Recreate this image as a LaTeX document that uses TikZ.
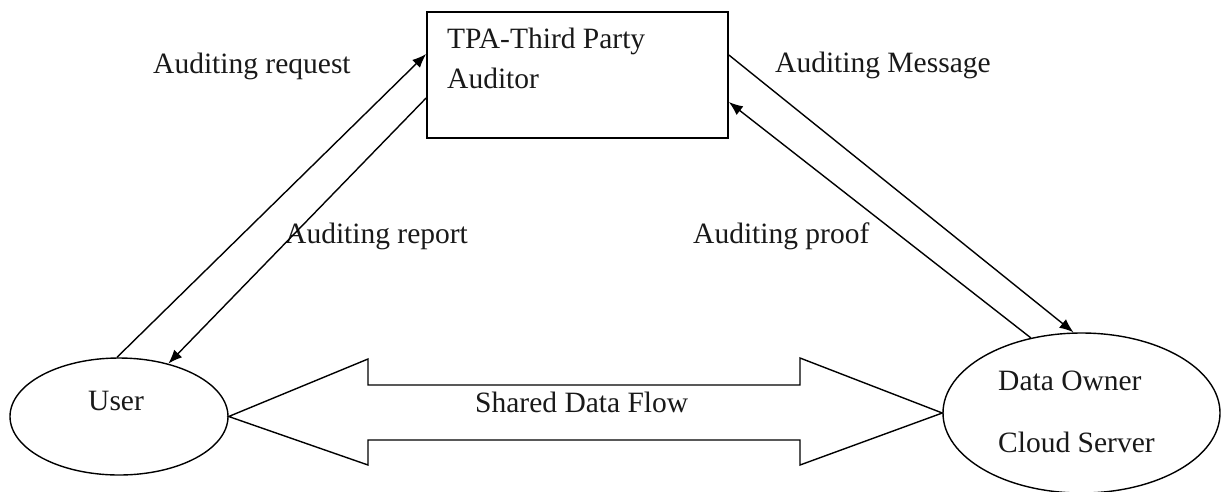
\documentclass[tikz,border=0pt]{standalone}
\usepackage{fontspec}
\setmainfont{Liberation Serif}
\usetikzlibrary{shapes.geometric,arrows.meta,calc}
\begin{document}
\begin{tikzpicture}[x=1pt,y=-1pt,
  lbl/.style={anchor=base west,inner sep=0pt,text=black!90,font=\fontsize{29.5}{35}\selectfont},
  ell/.style={draw,ellipse,line width=1.4pt,inner sep=0pt},
  boxnode/.style={draw,line width=1.7pt,inner sep=0pt},
  flow/.style={line width=1.4pt,-{Latex[length=14pt,width=11pt]}},
  bigarrow/.style={draw,line width=1.4pt,line join=miter}]
\useasboundingbox (0,0) rectangle (1222,491);
\fill[white] (0,0) rectangle (1222,491);
% main nodes
\node[boxnode,minimum width=301pt,minimum height=126pt] (tpa) at (577.5,75) {};
\node[ell,minimum width=218pt,minimum height=117pt] (user) at (119,416.5) {};
\node[ell,minimum width=277pt,minimum height=160pt] (do) at (1081.5,413) {};
% shared data flow block arrow
\draw[bigarrow] (user.east) -- (368,359) -- (368,385) -- (800,385) -- (800,358)
  -- (do.west) -- (800,465) -- (800,440) -- (368,440) -- (368,465) -- cycle;
% texts
\node[lbl] (t1) at (447,48) {TPA-Third Party};
\node[lbl] (t2) at (447,88) {Auditor};
\node[lbl] (ureq) at (153,73) {Auditing request};
\node[lbl] (umsg) at (775,72) {Auditing Message};
\node[lbl] (urep) at (285,243) {Auditing report};
\node[lbl] (uprf) at (693,243) {Auditing proof};
\node[lbl] (flowt) at (475,412) {Shared Data Flow};
\node[lbl] (usr) at (88,410) {User};
\node[lbl] (dot) at (998,390) {Data Owner};
\node[lbl] (cst) at (998,452) {Cloud Server};
% connectors
\draw[flow] ([xshift=-2pt]user.north) -- ([yshift=21pt]tpa.west);
\draw[flow] ([yshift=-23pt]tpa.west) -- (user.47);
\draw[flow] ([yshift=20pt]tpa.east) -- ([xshift=-8pt]do.north);
\draw[flow] (do.124) -- ([yshift=-27pt]tpa.east);
\end{tikzpicture}
\end{document}
